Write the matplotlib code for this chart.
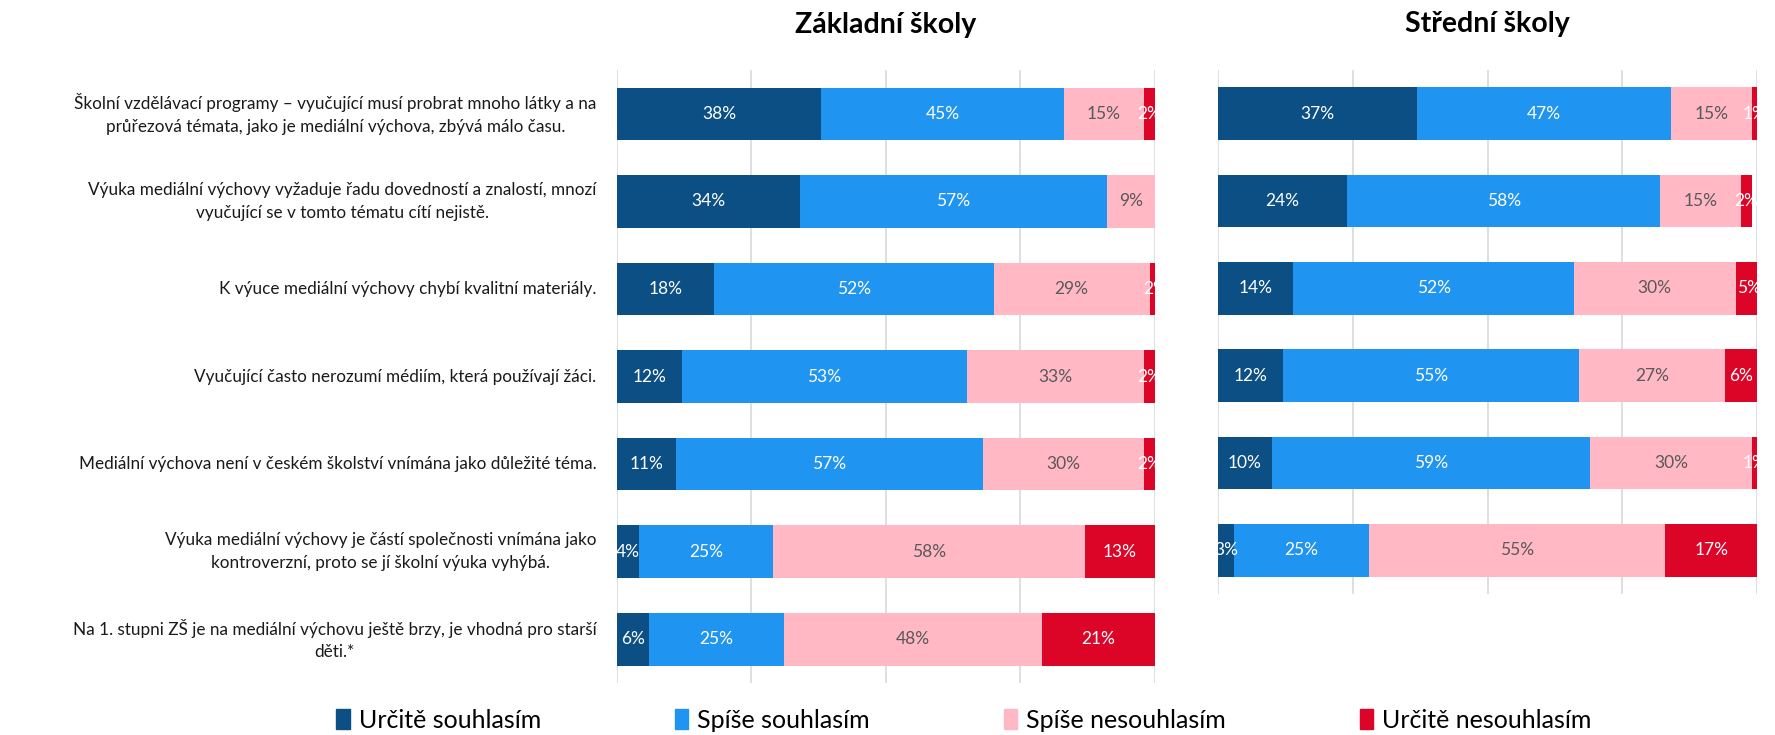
import matplotlib.pyplot as plt
import numpy as np

plt.rcParams['font.family'] = ['Lato', 'DejaVu Sans']

# categories (top to bottom)
labels_zs = [
    "Školní vzdělávací programy – vyučující musí probrat mnoho látky a na\nprůřezová témata, jako je mediální výchova, zbývá málo času.",
    "Výuka mediální výchovy vyžaduje řadu dovedností a znalostí, mnozí\nvyučující se v tomto tématu cítí nejistě.",
    "K výuce mediální výchovy chybí kvalitní materiály.",
    "Vyučující často nerozumí médiím, která používají žáci.",
    "Mediální výchova není v českém školství vnímána jako důležité téma.",
    "Výuka mediální výchovy je částí společnosti vnímána jako\nkontroverzní, proto se jí školní výuka vyhýbá.",
    "Na 1. stupni ZŠ je na mediální výchovu ještě brzy, je vhodná pro starší\nděti.*",
]
series = ["Určitě souhlasím", "Spíše souhlasím", "Spíše nesouhlasím", "Určitě nesouhlasím"]
colors = ["#0B4F85", "#1F94F0", "#FFB8C4", "#DC0528"]
text_colors = ["white", "white", "#595959", "white"]

# Základní školy, columns follow `series`
zs_urcite_ano = [38, 34, 18, 12, 11, 4, 6]
zs_spise_ano = [45, 57, 52, 53, 57, 25, 25]
zs_spise_ne = [15, 9, 29, 33, 30, 58, 48]
zs_urcite_ne = [2, 0, 2, 2, 2, 13, 21]

# Střední školy (no last item)
ss_urcite_ano = [37, 24, 14, 12, 10, 3]
ss_spise_ano = [47, 58, 52, 55, 59, 25]
ss_spise_ne = [15, 15, 30, 27, 30, 55]
ss_urcite_ne = [1, 2, 5, 6, 1, 17]

fig = plt.figure(figsize=(17.75, 7.35), dpi=100)
ax1 = fig.add_axes([0.3476, 0.0707, 0.3031, 0.834])
ax2 = fig.add_axes([0.6862, 0.1918, 0.3037, 0.713])


def draw(ax, data, title):
    n = len(data[0])
    y = np.arange(n)
    left = np.zeros(n)
    for vals, c, tc in zip(data, colors, text_colors):
        vals = np.array(vals, dtype=float)
        ax.barh(y, vals, left=left, height=0.6, color=c, edgecolor='none', zorder=2)
        for yi, l, v in zip(y, left, vals):
            if v > 0:
                ax.text(l + v / 2, yi, f"{int(v)}%", ha='center', va='center',
                        color=tc, fontsize=12.5, zorder=3, clip_on=True)
        left += vals
    ax.set_xlim(0, 100)
    ax.set_ylim(n - 0.5, -0.5)
    ax.set_xticks([0, 25, 50, 75, 100])
    ax.grid(axis='x', color='#D9D9D9', linewidth=1.2, zorder=0)
    ax.tick_params(length=0, labelbottom=False, labelleft=False)
    for s in ax.spines.values():
        s.set_visible(False)
    ax.set_title(title, fontsize=20.5, fontweight='bold', pad=27)


draw(ax1, [zs_urcite_ano, zs_spise_ano, zs_spise_ne, zs_urcite_ne], "Základní školy")
draw(ax2, [ss_urcite_ano, ss_spise_ano, ss_spise_ne, ss_urcite_ne], "Střední školy")

for i, lab in enumerate(labels_zs):
    ax1.text(-3.8, i, lab, ha='right', va='center', multialignment='center',
             fontsize=12.3, color='#1a1a1a', linespacing=1.5)

handles = [plt.Rectangle((0, 0), 1, 1, color=c) for c in colors]
fig.legend(handles, series, loc='center', bbox_to_anchor=(0.543, 0.02), ncol=4,
           frameon=False, fontsize=18, handlelength=0.55, handleheight=0.85,
           handletextpad=0.35, columnspacing=5.35)

fig.savefig("out.png", dpi=100)
